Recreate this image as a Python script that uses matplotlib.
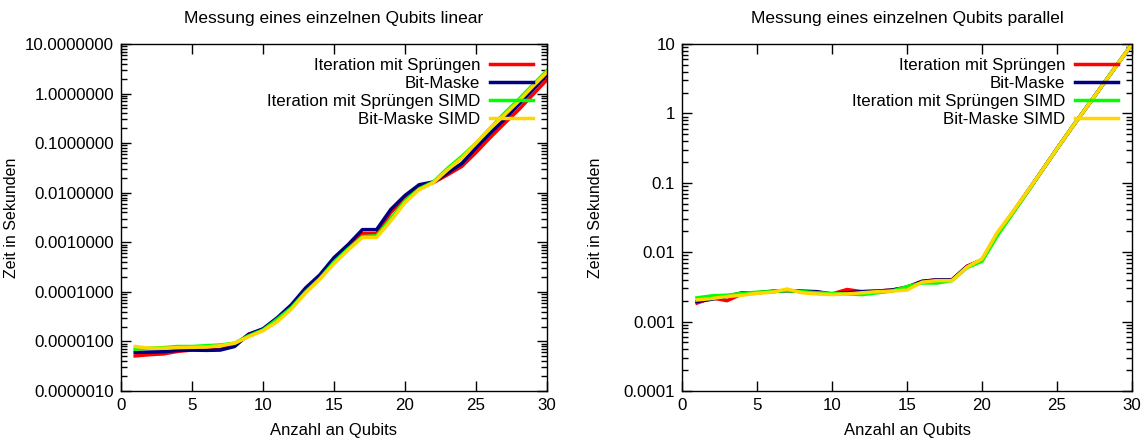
import matplotlib
matplotlib.use("Agg")
import matplotlib.pyplot as plt
from matplotlib.ticker import FixedLocator, FuncFormatter, LogLocator, NullFormatter

plt.rcParams['font.family'] = ['Liberation Sans', 'DejaVu Sans']

qubits = list(range(1, 31))

labels = ["Iteration mit Sprüngen", "Bit-Maske",
          "Iteration mit Sprüngen SIMD", "Bit-Maske SIMD"]
colors = ["#ff0000", "#000080", "#00ff00", "#ffd700"]

# linear measurement (seconds)
lin_iter = [5.1e-6, 5.4e-6, 5.6e-6, 6.3e-6, 6.7e-6, 6.7e-6, 6.9e-6, 8.5e-6, 1.4e-5, 1.7e-5,
            2.75e-5, 5.0e-5, 1.1e-4, 2.1e-4, 4.5e-4, 8.6e-4, 1.5e-3, 1.5e-3, 4.0e-3, 8.0e-3,
            1.3e-2, 1.6e-2, 2.3e-2, 3.4e-2, 6.5e-2, 0.13, 0.25, 0.47, 0.95, 1.9]
lin_mask = [6.0e-6, 6.1e-6, 6.2e-6, 6.6e-6, 6.7e-6, 6.6e-6, 6.7e-6, 7.9e-6, 1.4e-5, 1.8e-5,
            3.0e-5, 5.5e-5, 1.2e-4, 2.2e-4, 4.9e-4, 9.0e-4, 1.8e-3, 1.8e-3, 4.6e-3, 8.8e-3,
            1.45e-2, 1.65e-2, 2.5e-2, 3.9e-2, 8.0e-2, 0.16, 0.30, 0.60, 1.2, 2.4]
lin_iter_simd = [7.0e-6, 7.3e-6, 7.5e-6, 7.9e-6, 7.9e-6, 8.2e-6, 8.5e-6, 9.2e-6, 1.3e-5, 1.7e-5,
                 2.8e-5, 4.8e-5, 1.0e-4, 1.85e-4, 4.0e-4, 7.4e-4, 1.3e-3, 1.35e-3, 3.0e-3, 6.9e-3,
                 1.2e-2, 1.65e-2, 3.1e-2, 5.4e-2, 0.10, 0.20, 0.40, 0.76, 1.5, 2.9]
lin_mask_simd = [7.9e-6, 7.3e-6, 7.3e-6, 7.5e-6, 7.6e-6, 7.7e-6, 8.2e-6, 9.2e-6, 1.25e-5, 1.65e-5,
                 2.5e-5, 4.5e-5, 9.5e-5, 1.8e-4, 3.7e-4, 7.0e-4, 1.25e-3, 1.25e-3, 2.7e-3, 6.3e-3,
                 1.15e-2, 1.6e-2, 2.9e-2, 5.0e-2, 0.10, 0.20, 0.37, 0.70, 1.4, 2.7]

# parallel measurement (seconds)
par_iter = [1.85e-3, 2.2e-3, 2.0e-3, 2.5e-3, 2.6e-3, 2.75e-3, 2.8e-3, 2.7e-3, 2.65e-3, 2.5e-3,
            2.9e-3, 2.7e-3, 2.75e-3, 2.85e-3, 3.15e-3, 3.8e-3, 4.0e-3, 4.0e-3, 6.3e-3, 7.8e-3,
            1.8e-2, 3.6e-2, 7.3e-2, 0.15, 0.31, 0.63, 1.25, 2.5, 5.0, 10.0]
par_mask = [1.95e-3, 2.1e-3, 2.3e-3, 2.6e-3, 2.6e-3, 2.7e-3, 2.8e-3, 2.75e-3, 2.7e-3, 2.5e-3,
            2.6e-3, 2.7e-3, 2.75e-3, 2.85e-3, 3.1e-3, 3.8e-3, 4.0e-3, 4.0e-3, 6.2e-3, 7.7e-3,
            1.8e-2, 3.6e-2, 7.3e-2, 0.15, 0.31, 0.63, 1.25, 2.5, 5.0, 10.0]
par_iter_simd = [2.2e-3, 2.35e-3, 2.4e-3, 2.55e-3, 2.65e-3, 2.7e-3, 2.8e-3, 2.7e-3, 2.6e-3, 2.55e-3,
                 2.5e-3, 2.45e-3, 2.6e-3, 2.75e-3, 3.2e-3, 3.6e-3, 3.6e-3, 3.9e-3, 6.0e-3, 7.4e-3,
                 1.7e-2, 3.5e-2, 7.2e-2, 0.15, 0.31, 0.63, 1.25, 2.5, 5.0, 10.0]
par_mask_simd = [2.05e-3, 2.15e-3, 2.3e-3, 2.4e-3, 2.55e-3, 2.65e-3, 2.95e-3, 2.6e-3, 2.5e-3, 2.45e-3,
                 2.5e-3, 2.6e-3, 2.7e-3, 2.75e-3, 2.85e-3, 3.7e-3, 3.9e-3, 3.9e-3, 6.1e-3, 8.0e-3,
                 1.9e-2, 3.7e-2, 7.4e-2, 0.15, 0.31, 0.63, 1.25, 2.5, 5.0, 10.0]

fig = plt.figure(figsize=(11.48, 4.45), dpi=100)
ax1 = fig.add_axes([121/1148, 54/445, 426/1148, 347/445])
ax2 = fig.add_axes([682/1148, 54/445, 450/1148, 347/445])


def style(ax, series, title, ymin, fmt, ylab_x):
    for ys, lab, col in zip(series, labels, colors):
        ax.plot(qubits, ys, color=col, lw=2.5, label=lab)
    ax.set_yscale("log")
    ax.set_xlim(0, 30)
    ax.set_ylim(ymin, 10)
    ax.xaxis.set_major_locator(FixedLocator([0, 5, 10, 15, 20, 25, 30]))
    ax.yaxis.set_major_locator(LogLocator(base=10, numticks=20))
    ax.yaxis.set_minor_locator(LogLocator(base=10, subs=range(2, 10), numticks=20))
    ax.yaxis.set_minor_formatter(NullFormatter())
    ax.yaxis.set_major_formatter(FuncFormatter(fmt))
    ax.tick_params(which="both", direction="in", top=True, right=True, labelsize=12.2, pad=5)
    ax.tick_params(which="major", length=7, width=1)
    ax.tick_params(which="minor", length=4, width=1)
    for sp in ax.spines.values():
        sp.set_linewidth(1)
    ax.set_title(title, fontsize=12.5, pad=15)
    ax.set_xlabel("Anzahl an Qubits", fontsize=12, labelpad=7)
    ax.set_ylabel("Zeit in Sekunden", fontsize=11.5)
    ax.yaxis.set_label_coords(ylab_x, 0.5)
    ax.legend(loc="upper right", frameon=False, markerfirst=False, fontsize=12.2,
              handlelength=2.5, handletextpad=0.6, labelspacing=0.16,
              borderaxespad=0.45)


style(ax1, [lin_iter, lin_mask, lin_iter_simd, lin_mask_simd],
      "Messung eines einzelnen Qubits linear", 1e-6, lambda v, p: "%.7f" % v,
      (19 - 121) / 426)
style(ax2, [par_iter, par_mask, par_iter_simd, par_mask_simd],
      "Messung eines einzelnen Qubits parallel", 1e-4, lambda v, p: "%g" % v,
      (603 - 682) / 450)

fig.savefig("out.png", dpi=100)
